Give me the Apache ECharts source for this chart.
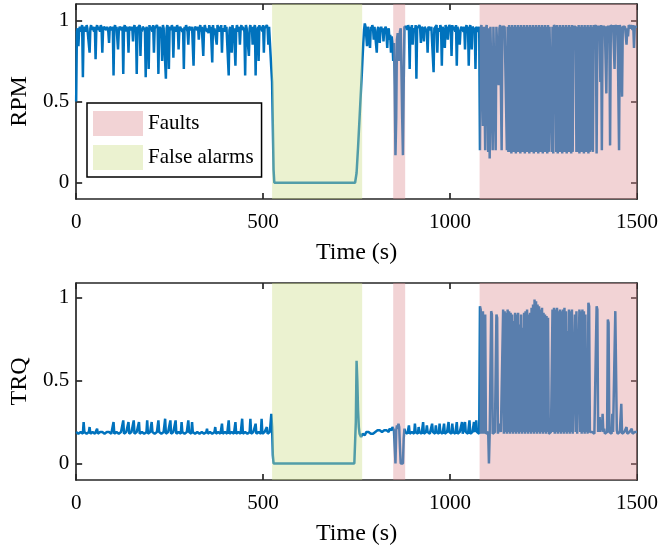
<!DOCTYPE html>
<html>
<head>
<meta charset="utf-8">
<script src="https://cdn.jsdelivr.net/npm/echarts@6/dist/echarts.min.js"></script>
<style>
  html, body { margin: 0; padding: 0; background: #fff; }
  #chart { width: 662px; height: 549px; }
</style>
</head>
<body>
<div id="chart"></div>
<script>
// Sampling interval of both signals (seconds); each row below covers 20 s
const sampleStep = 2;

// Normalised rotational speed, 0 .. 1500 s
const rpm = [
  0.50, 0.93, 0.95, 0.84, 0.94, 0.96, 0.93, 0.95, 0.97, 0.65,   // 0
  0.94, 0.96, 0.95, 0.93, 0.97, 0.95, 0.94, 0.96, 0.80, 0.95,   // 20
  0.97, 0.94, 0.96, 0.95, 0.93, 0.96, 0.76, 0.95, 0.97, 0.94,   // 40
  0.96, 0.95, 0.93, 0.97, 0.95, 0.80, 0.94, 0.96, 0.95, 0.97,   // 60
  0.94, 0.96, 0.95, 0.93, 0.86, 0.96, 0.95, 0.97, 0.94, 0.96,   // 80
  0.66, 0.95, 0.97, 0.94, 0.96, 0.95, 0.82, 0.93, 0.96, 0.95,   // 100
  0.97, 0.94, 0.96, 0.67, 0.95, 0.97, 0.93, 0.96, 0.95, 0.94,   // 120
  0.80, 0.96, 0.95, 0.97, 0.94, 0.96, 0.87, 0.95, 0.97, 0.93,   // 140
  0.96, 0.67, 0.95, 0.94, 0.96, 0.97, 0.78, 0.95, 0.93, 0.96,   // 160
  0.95, 0.97, 0.94, 0.65, 0.96, 0.95, 0.93, 0.70, 0.97, 0.94,   // 180
  0.96, 0.95, 0.93, 0.97, 0.80, 0.95, 0.94, 0.96, 0.97, 0.95,   // 200
  0.67, 0.94, 0.96, 0.95, 0.93, 0.75, 0.97, 0.95, 0.94, 0.96,   // 220
  0.64, 0.95, 0.97, 0.93, 0.70, 0.96, 0.95, 0.94, 0.97, 0.95,   // 240
  0.77, 0.94, 0.96, 0.95, 0.93, 0.97, 0.95, 0.82, 0.94, 0.96,   // 260
  0.95, 0.97, 0.93, 0.95, 0.70, 0.96, 0.94, 0.97, 0.95, 0.93,   // 280
  0.85, 0.96, 0.95, 0.97, 0.94, 0.96, 0.95, 0.72, 0.93, 0.96,   // 300
  0.95, 0.97, 0.94, 0.96, 0.88, 0.95, 0.97, 0.93, 0.96, 0.95,   // 320
  0.78, 0.94, 0.97, 0.95, 0.96, 0.93, 0.95, 0.92, 0.97, 0.94,   // 340
  0.96, 0.95, 0.74, 0.97, 0.93, 0.95, 0.96, 0.94, 0.85, 0.97,   // 360
  0.95, 0.93, 0.96, 0.94, 0.97, 0.80, 0.95, 0.96, 0.93, 0.97,   // 380
  0.94, 0.96, 0.95, 0.97, 0.66, 0.94, 0.96, 0.95, 0.80, 0.97,   // 400
  0.93, 0.95, 0.96, 0.72, 0.94, 0.97, 0.95, 0.93, 0.96, 0.85,   // 420
  0.95, 0.97, 0.94, 0.96, 0.95, 0.93, 0.66, 0.97, 0.95, 0.94,   // 440
  0.96, 0.78, 0.95, 0.97, 0.93, 0.96, 0.85, 0.94, 0.95, 0.97,   // 460
  0.66, 0.95, 0.93, 0.96, 0.75, 0.97, 0.94, 0.95, 0.96, 0.93,   // 480
  0.97, 0.80, 0.95, 0.96, 0.94, 0.97, 0.95, 0.85, 0.96, 0.97,   // 500
  0.96, 0.70, 0.62, 0.35, 0.08, 0.00, 0.00, 0.00, 0.00, 0.00,   // 520
  0.00, 0.00, 0.00, 0.00, 0.00, 0.00, 0.00, 0.00, 0.00, 0.00,   // 540
  0.00, 0.00, 0.00, 0.00, 0.00, 0.00, 0.00, 0.00, 0.00, 0.00,   // 560
  0.00, 0.00, 0.00, 0.00, 0.00, 0.00, 0.00, 0.00, 0.00, 0.00,   // 580
  0.00, 0.00, 0.00, 0.00, 0.00, 0.00, 0.00, 0.00, 0.00, 0.00,   // 600
  0.00, 0.00, 0.00, 0.00, 0.00, 0.00, 0.00, 0.00, 0.00, 0.00,   // 620
  0.00, 0.00, 0.00, 0.00, 0.00, 0.00, 0.00, 0.00, 0.00, 0.00,   // 640
  0.00, 0.00, 0.00, 0.00, 0.00, 0.00, 0.00, 0.00, 0.00, 0.00,   // 660
  0.00, 0.00, 0.00, 0.00, 0.00, 0.00, 0.00, 0.00, 0.00, 0.00,   // 680
  0.00, 0.00, 0.00, 0.00, 0.00, 0.00, 0.00, 0.00, 0.00, 0.00,   // 700
  0.00, 0.00, 0.00, 0.00, 0.00, 0.00, 0.00, 0.00, 0.00, 0.00,   // 720
  0.00, 0.00, 0.00, 0.00, 0.00, 0.06, 0.14, 0.22, 0.31, 0.40,   // 740
  0.49, 0.58, 0.67, 0.77, 0.86, 0.94, 0.98, 0.96, 0.97, 0.84,   // 760
  0.96, 0.95, 0.97, 0.83, 0.96, 0.94, 0.97, 0.95, 0.88, 0.96,   // 780
  0.95, 0.97, 0.80, 0.94, 0.96, 0.95, 0.86, 0.94, 0.96, 0.93,   // 800
  0.95, 0.87, 0.94, 0.93, 0.96, 0.92, 0.83, 0.93, 0.95, 0.88,   // 820
  0.91, 0.80, 0.90, 0.86, 0.75, 0.86, 0.60, 0.17, 0.40, 0.88,   // 840
  0.92, 0.90, 0.75, 0.93, 0.95, 0.70, 0.40, 0.17, 0.60, 0.96,   // 860
  0.97, 0.95, 0.96, 0.94, 0.97, 0.95, 0.70, 0.96, 0.94, 0.97,   // 880
  0.85, 0.95, 0.96, 0.93, 0.97, 0.64, 0.95, 0.96, 0.94, 0.97,   // 900
  0.95, 0.86, 0.96, 0.97, 0.94, 0.87, 0.96, 0.95, 0.97, 0.93,   // 920
  0.80, 0.96, 0.95, 0.97, 0.94, 0.96, 0.95, 0.97, 0.68, 0.95,   // 940
  0.96, 0.94, 0.97, 0.80, 0.95, 0.96, 0.93, 0.97, 0.95, 0.72,   // 960
  0.96, 0.94, 0.95, 0.83, 0.97, 0.96, 0.94, 0.88, 0.95, 0.97,   // 980
  0.96, 0.95, 0.78, 0.97, 0.94, 0.96, 0.95, 0.93, 0.97, 0.72,   // 1000
  0.96, 0.95, 0.97, 0.85, 0.94, 0.96, 0.95, 0.97, 0.93, 0.96,   // 1020
  0.82, 0.95, 0.97, 0.94, 0.96, 0.72, 0.95, 0.97, 0.94, 0.82,   // 1040
  0.96, 0.95, 0.97, 0.94, 0.70, 0.96, 0.95, 0.97, 0.93, 0.96,   // 1060
  0.20, 0.95, 0.97, 0.96, 0.35, 0.96, 0.97, 0.20, 0.95, 0.97,   // 1080
  0.96, 0.19, 0.95, 0.15, 0.96, 0.97, 0.95, 0.20, 0.96, 0.97,   // 1100
  0.95, 0.20, 0.96, 0.97, 0.96, 0.60, 0.95, 0.97, 0.96, 0.20,   // 1120
  0.96, 0.97, 0.95, 0.96, 0.97, 0.95, 0.20, 0.96, 0.19, 0.97,   // 1140
  0.19, 0.96, 0.18, 0.97, 0.19, 0.96, 0.19, 0.97, 0.18, 0.96,   // 1160
  0.19, 0.97, 0.19, 0.96, 0.18, 0.97, 0.19, 0.96, 0.19, 0.97,   // 1180
  0.18, 0.96, 0.19, 0.97, 0.19, 0.96, 0.18, 0.97, 0.19, 0.96,   // 1200
  0.19, 0.97, 0.18, 0.96, 0.19, 0.97, 0.19, 0.96, 0.18, 0.97,   // 1220
  0.19, 0.96, 0.19, 0.97, 0.18, 0.96, 0.19, 0.97, 0.19, 0.96,   // 1240
  0.18, 0.97, 0.19, 0.96, 0.95, 0.97, 0.19, 0.96, 0.18, 0.97,   // 1260
  0.96, 0.95, 0.19, 0.97, 0.18, 0.96, 0.19, 0.97, 0.19, 0.96,   // 1280
  0.18, 0.97, 0.19, 0.96, 0.19, 0.97, 0.18, 0.96, 0.19, 0.97,   // 1300
  0.19, 0.96, 0.18, 0.97, 0.19, 0.96, 0.97, 0.95, 0.96, 0.19,   // 1320
  0.96, 0.19, 0.97, 0.18, 0.96, 0.19, 0.97, 0.19, 0.96, 0.18,   // 1340
  0.97, 0.19, 0.96, 0.19, 0.97, 0.18, 0.96, 0.19, 0.97, 0.20,   // 1360
  0.96, 0.19, 0.97, 0.95, 0.96, 0.97, 0.18, 0.96, 0.97, 0.95,   // 1380
  0.96, 0.62, 0.97, 0.20, 0.96, 0.97, 0.95, 0.96, 0.97, 0.55,   // 1400
  0.96, 0.97, 0.95, 0.96, 0.23, 0.97, 0.96, 0.95, 0.97, 0.96,   // 1420
  0.70, 0.97, 0.96, 0.95, 0.97, 0.96, 0.20, 0.97, 0.95, 0.96,   // 1440
  0.53, 0.96, 0.97, 0.95, 0.96, 0.97, 0.85, 0.95, 0.90, 0.97,   // 1460
  0.96, 0.95, 0.97, 0.96, 0.94, 0.97, 0.83, 0.96, 0.95, 0.97,   // 1480
  0.96                                                          // 1500
];

// Normalised torque, same sampling
const trq = [
  0.19, 0.18, 0.19, 0.18, 0.19, 0.18, 0.19, 0.18, 0.19, 0.18,   // 0
  0.25, 0.19, 0.18, 0.19, 0.18, 0.19, 0.18, 0.19, 0.22, 0.18,   // 20
  0.19, 0.18, 0.19, 0.18, 0.19, 0.18, 0.19, 0.18, 0.21, 0.18,   // 40
  0.19, 0.18, 0.19, 0.18, 0.18, 0.19, 0.18, 0.19, 0.18, 0.19,   // 60
  0.18, 0.19, 0.18, 0.18, 0.19, 0.18, 0.19, 0.18, 0.19, 0.18,   // 80
  0.25, 0.18, 0.19, 0.18, 0.19, 0.18, 0.19, 0.18, 0.19, 0.18,   // 100
  0.19, 0.18, 0.19, 0.26, 0.18, 0.19, 0.18, 0.19, 0.18, 0.19,   // 120
  0.25, 0.18, 0.19, 0.18, 0.19, 0.18, 0.19, 0.26, 0.18, 0.19,   // 140
  0.18, 0.19, 0.18, 0.19, 0.25, 0.18, 0.19, 0.18, 0.19, 0.18,   // 160
  0.19, 0.18, 0.19, 0.18, 0.19, 0.26, 0.18, 0.19, 0.18, 0.19,   // 180
  0.18, 0.25, 0.19, 0.18, 0.19, 0.18, 0.19, 0.18, 0.19, 0.18,   // 200
  0.26, 0.19, 0.18, 0.19, 0.18, 0.19, 0.18, 0.19, 0.18, 0.27,   // 220
  0.18, 0.19, 0.18, 0.19, 0.18, 0.19, 0.26, 0.18, 0.19, 0.18,   // 240
  0.19, 0.18, 0.19, 0.26, 0.18, 0.19, 0.18, 0.19, 0.18, 0.19,   // 260
  0.18, 0.25, 0.19, 0.18, 0.19, 0.18, 0.19, 0.18, 0.19, 0.18,   // 280
  0.26, 0.19, 0.18, 0.19, 0.18, 0.25, 0.19, 0.18, 0.19, 0.18,   // 300
  0.19, 0.18, 0.19, 0.18, 0.19, 0.18, 0.19, 0.18, 0.19, 0.18,   // 320
  0.19, 0.18, 0.19, 0.18, 0.19, 0.21, 0.18, 0.19, 0.18, 0.19,   // 340
  0.18, 0.19, 0.18, 0.19, 0.18, 0.19, 0.22, 0.18, 0.19, 0.18,   // 360
  0.19, 0.18, 0.19, 0.18, 0.19, 0.24, 0.18, 0.19, 0.18, 0.19,   // 380
  0.18, 0.19, 0.18, 0.19, 0.26, 0.18, 0.19, 0.18, 0.19, 0.18,   // 400
  0.19, 0.18, 0.19, 0.25, 0.18, 0.19, 0.18, 0.19, 0.18, 0.19,   // 420
  0.18, 0.19, 0.27, 0.18, 0.19, 0.18, 0.19, 0.18, 0.19, 0.18,   // 440
  0.19, 0.18, 0.19, 0.27, 0.18, 0.19, 0.18, 0.19, 0.18, 0.19,   // 460
  0.24, 0.18, 0.19, 0.18, 0.19, 0.18, 0.19, 0.18, 0.27, 0.18,   // 480
  0.19, 0.18, 0.19, 0.18, 0.19, 0.22, 0.18, 0.19, 0.18, 0.19,   // 500
  0.20, 0.30, 0.22, 0.05, 0.00, 0.00, 0.00, 0.00, 0.00, 0.00,   // 520
  0.00, 0.00, 0.00, 0.00, 0.00, 0.00, 0.00, 0.00, 0.00, 0.00,   // 540
  0.00, 0.00, 0.00, 0.00, 0.00, 0.00, 0.00, 0.00, 0.00, 0.00,   // 560
  0.00, 0.00, 0.00, 0.00, 0.00, 0.00, 0.00, 0.00, 0.00, 0.00,   // 580
  0.00, 0.00, 0.00, 0.00, 0.00, 0.00, 0.00, 0.00, 0.00, 0.00,   // 600
  0.00, 0.00, 0.00, 0.00, 0.00, 0.00, 0.00, 0.00, 0.00, 0.00,   // 620
  0.00, 0.00, 0.00, 0.00, 0.00, 0.00, 0.00, 0.00, 0.00, 0.00,   // 640
  0.00, 0.00, 0.00, 0.00, 0.00, 0.00, 0.00, 0.00, 0.00, 0.00,   // 660
  0.00, 0.00, 0.00, 0.00, 0.00, 0.00, 0.00, 0.00, 0.00, 0.00,   // 680
  0.00, 0.00, 0.00, 0.00, 0.00, 0.00, 0.00, 0.00, 0.00, 0.00,   // 700
  0.00, 0.00, 0.00, 0.00, 0.00, 0.00, 0.00, 0.00, 0.00, 0.00,   // 720
  0.00, 0.00, 0.00, 0.00, 0.25, 0.62, 0.50, 0.32, 0.22, 0.18,   // 740
  0.17, 0.16, 0.17, 0.18, 0.17, 0.18, 0.17, 0.18, 0.19, 0.18,   // 760
  0.18, 0.19, 0.18, 0.19, 0.18, 0.19, 0.19, 0.18, 0.19, 0.18,   // 780
  0.19, 0.18, 0.19, 0.20, 0.19, 0.19, 0.20, 0.19, 0.20, 0.19,   // 800
  0.20, 0.19, 0.20, 0.21, 0.19, 0.20, 0.21, 0.20, 0.19, 0.21,   // 820
  0.20, 0.21, 0.20, 0.22, 0.21, 0.20, 0.10, 0.00, 0.20, 0.23,   // 840
  0.21, 0.24, 0.22, 0.10, 0.00, 0.00, 0.00, 0.00, 0.15, 0.21,   // 860
  0.19, 0.18, 0.19, 0.18, 0.19, 0.23, 0.18, 0.19, 0.18, 0.19,   // 880
  0.18, 0.19, 0.18, 0.24, 0.19, 0.18, 0.19, 0.18, 0.22, 0.19,   // 900
  0.18, 0.19, 0.18, 0.19, 0.25, 0.18, 0.19, 0.18, 0.19, 0.23,   // 920
  0.19, 0.18, 0.19, 0.18, 0.19, 0.18, 0.24, 0.19, 0.18, 0.19,   // 940
  0.18, 0.23, 0.19, 0.18, 0.19, 0.18, 0.24, 0.19, 0.18, 0.19,   // 960
  0.18, 0.19, 0.24, 0.18, 0.19, 0.18, 0.19, 0.18, 0.25, 0.19,   // 980
  0.18, 0.19, 0.18, 0.24, 0.19, 0.18, 0.19, 0.18, 0.19, 0.25,   // 1000
  0.18, 0.19, 0.18, 0.19, 0.18, 0.19, 0.25, 0.18, 0.19, 0.18,   // 1020
  0.25, 0.19, 0.18, 0.19, 0.18, 0.19, 0.26, 0.18, 0.19, 0.18,   // 1040
  0.19, 0.18, 0.25, 0.19, 0.18, 0.26, 0.19, 0.18, 0.19, 0.18,   // 1060
  0.95, 0.93, 0.18, 0.19, 0.92, 0.18, 0.19, 0.90, 0.18, 0.19,   // 1080
  0.18, 0.19, 0.00, 0.18, 0.19, 0.92, 0.90, 0.18, 0.19, 0.18,   // 1100
  0.19, 0.18, 0.90, 0.88, 0.18, 0.19, 0.24, 0.22, 0.19, 0.18,   // 1120
  0.19, 0.93, 0.18, 0.92, 0.19, 0.91, 0.18, 0.93, 0.19, 0.92,   // 1140
  0.18, 0.91, 0.19, 0.90, 0.18, 0.86, 0.19, 0.91, 0.18, 0.90,   // 1160
  0.19, 0.91, 0.18, 0.84, 0.19, 0.90, 0.18, 0.82, 0.19, 0.91,   // 1180
  0.18, 0.92, 0.19, 0.93, 0.18, 0.90, 0.19, 0.91, 0.18, 0.94,   // 1200
  0.19, 0.96, 0.18, 0.99, 0.19, 0.98, 0.18, 0.96, 0.19, 0.95,   // 1220
  0.18, 0.93, 0.19, 0.94, 0.18, 0.91, 0.19, 0.90, 0.18, 0.89,   // 1240
  0.19, 0.88, 0.18, 0.19, 0.18, 0.19, 0.18, 0.93, 0.19, 0.94,   // 1260
  0.18, 0.93, 0.19, 0.94, 0.18, 0.92, 0.19, 0.93, 0.18, 0.92,   // 1280
  0.19, 0.93, 0.18, 0.94, 0.19, 0.92, 0.18, 0.80, 0.19, 0.93,   // 1300
  0.18, 0.92, 0.19, 0.93, 0.18, 0.19, 0.18, 0.90, 0.19, 0.92,   // 1320
  0.18, 0.19, 0.18, 0.93, 0.19, 0.92, 0.18, 0.93, 0.19, 0.92,   // 1340
  0.18, 0.90, 0.19, 0.36, 0.18, 0.97, 0.95, 0.19, 0.20, 0.18,   // 1360
  0.19, 0.18, 0.19, 0.18, 0.19, 0.18, 0.95, 0.93, 0.19, 0.20,   // 1380
  0.28, 0.19, 0.25, 0.20, 0.30, 0.19, 0.21, 0.18, 0.19, 0.18,   // 1400
  0.19, 0.87, 0.85, 0.19, 0.18, 0.19, 0.18, 0.30, 0.19, 0.18,   // 1420
  0.19, 0.92, 0.93, 0.20, 0.18, 0.19, 0.18, 0.19, 0.19, 0.36,   // 1440
  0.18, 0.19, 0.18, 0.19, 0.18, 0.19, 0.22, 0.18, 0.19, 0.18,   // 1460
  0.19, 0.18, 0.19, 0.21, 0.18, 0.19, 0.18, 0.19, 0.18, 0.19,   // 1480
  0.19                                                          // 1500
];

// Shaded time intervals [start, end] in seconds
const faultSpans = [[848, 880], [1079, 1500]];
const falseAlarmSpans = [[524, 765]];

// Tick positions
const timeTicks = [0, 500, 1000, 1500];
const valueTicks = [0, 0.5, 1];

const FONT = '"Liberation Serif", "Times New Roman", serif';
const AXIS_COLOR = '#262626';
const LINE_COLOR = '#0072BD';
const FAULT_FILL = 'rgba(223, 146, 151, 0.40)';
const ALARM_FILL = 'rgba(205, 222, 137, 0.40)';

const toPairs = vals => vals.map((v, i) => [i * sampleStep, v]);
const plainNumber = v => String(v);

function xAxisFor(gridIndex, position, withLabels) {
  return {
    type: 'value', gridIndex, position, min: 0, max: 1500,
    name: withLabels ? 'Time (s)' : '',
    nameLocation: 'middle', nameGap: 42,
    nameTextStyle: { fontFamily: FONT, fontSize: 24, color: '#000' },
    axisLine: { show: true, onZero: false, lineStyle: { color: AXIS_COLOR, width: 1.7 } },
    axisTick: { show: true, inside: true, length: 6, customValues: timeTicks,
                lineStyle: { color: AXIS_COLOR, width: 1.7 } },
    axisLabel: { show: withLabels, customValues: timeTicks, margin: 13, formatter: plainNumber,
                 fontFamily: FONT, fontSize: 21, color: '#000' },
    splitLine: { show: false }
  };
}

function yAxisFor(gridIndex, position, withLabels, name, max) {
  return {
    type: 'value', gridIndex, position, min: -0.1, max,
    name: withLabels ? name : '',
    nameLocation: 'middle', nameGap: 43, nameRotate: 90,
    nameTextStyle: { fontFamily: FONT, fontSize: 24, color: '#000' },
    axisLine: { show: true, onZero: false, lineStyle: { color: AXIS_COLOR, width: 1.7 } },
    axisTick: { show: true, inside: true, length: 6, customValues: valueTicks,
                lineStyle: { color: AXIS_COLOR, width: 1.7 } },
    axisLabel: { show: withLabels, customValues: valueTicks, margin: 7, formatter: plainNumber,
                 fontFamily: FONT, fontSize: 21, color: '#000' },
    splitLine: { show: false }
  };
}

function spanSeries(name, spans, fill, gridIdx) {
  return {
    type: 'custom', name,
    xAxisIndex: gridIdx * 2, yAxisIndex: gridIdx * 2,
    z: 5, silent: true,
    itemStyle: { color: fill },
    encode: { x: [0, 1] },
    data: spans,
    renderItem(params, api) {
      const cs = params.coordSys;
      const x0 = api.coord([api.value(0), 0])[0];
      const x1 = api.coord([api.value(1), 0])[0];
      return {
        type: 'rect',
        shape: { x: x0, y: cs.y, width: x1 - x0, height: cs.height },
        style: { fill }
      };
    }
  };
}

function signalSeries(name, values, gridIdx) {
  return {
    type: 'line', name, showSymbol: false, symbol: 'none',
    xAxisIndex: gridIdx * 2, yAxisIndex: gridIdx * 2,
    z: 3, clip: true, sampling: null,
    lineStyle: { color: LINE_COLOR, width: 2.5 },
    data: toPairs(values)
  };
}

const chart = echarts.init(document.getElementById('chart'), null, { renderer: 'canvas' });
chart.setOption({
  animation: false,
  backgroundColor: '#fff',
  grid: [
    { left: 74, top: 4, width: 563, height: 195 },
    { left: 74, top: 283, width: 563, height: 197 }
  ],
  xAxis: [
    xAxisFor(0, 'bottom', true), xAxisFor(0, 'top', false),
    xAxisFor(1, 'bottom', true), xAxisFor(1, 'top', false)
  ],
  yAxis: [
    yAxisFor(0, 'left', true, 'RPM', 1.1), yAxisFor(0, 'right', false, '', 1.1),
    yAxisFor(1, 'left', true, 'TRQ', 1.09), yAxisFor(1, 'right', false, '', 1.09)
  ],
  legend: {
    left: 87, top: 103, orient: 'vertical',
    itemWidth: 50, itemHeight: 25, itemGap: 9,
    padding: [8, 8, 7, 6],
    borderColor: '#000', borderWidth: 1.5, borderRadius: 0,
    backgroundColor: '#fff',
    selectedMode: false,
    textStyle: { fontFamily: FONT, fontSize: 21, color: '#000' },
    data: [
      { name: 'Faults', icon: 'rect', itemStyle: { color: '#f2d3d5' } },
      { name: 'False alarms', icon: 'rect', itemStyle: { color: '#ebf2d0' } }
    ]
  },
  series: [
    signalSeries('RPM', rpm, 0),
    spanSeries('Faults', faultSpans, FAULT_FILL, 0),
    spanSeries('False alarms', falseAlarmSpans, ALARM_FILL, 0),
    signalSeries('TRQ', trq, 1),
    spanSeries('Faults', faultSpans, FAULT_FILL, 1),
    spanSeries('False alarms', falseAlarmSpans, ALARM_FILL, 1)
  ]
});
</script>
</body>
</html>
